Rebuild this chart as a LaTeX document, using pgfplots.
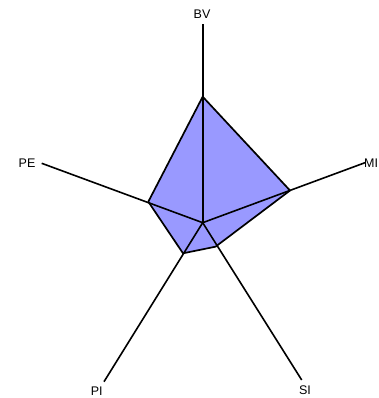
\documentclass[border=0pt]{standalone}
\usepackage{pgfplots}
\pgfplotsset{compat=1.18}
\usepackage{fontspec}
\setmainfont{Liberation Sans}
\definecolor{radarfill}{RGB}{153,153,255}

\begin{document}
\begin{tikzpicture}
  \path[use as bounding box, clip] (0,0) rectangle (378pt,398pt);
  \begin{axis}[
      at={(0,0)}, anchor=south west,
      scale only axis, width=378pt, height=398pt,
      xmin=-202.7, xmax=175.3, ymin=-175.3, ymax=222.7,
      axis lines=none, clip=false,
    ]
    % filled profile
    \addplot[fill=radarfill, draw=black, line width=1.7pt, line join=round]
      coordinates {(0,126) (87.3,32.2) (12.8,-24) (-19.7,-30.6) (-54.4,21) (0,126)} -- cycle;
    % spokes
    \addplot[black, line width=1.6pt] coordinates {(0,0) (0,198.7)};
    \addplot[black, line width=1.6pt] coordinates {(0,0) (162.3,60)};
    \addplot[black, line width=1.6pt] coordinates {(0,0) (99,-157.3)};
    \addplot[black, line width=1.6pt] coordinates {(0,0) (-98.7,-159)};
    \addplot[black, line width=1.6pt] coordinates {(0,0) (-161,59.4)};
    % labels
    \node[font=\fontsize{12.5}{14}\selectfont] at (axis cs:-0.7,208.7) {BV};
    \node[font=\fontsize{12.5}{14}\selectfont, anchor=west, inner sep=0pt] at (axis cs:161.3,59.7) {MI};
    \node[font=\fontsize{12.5}{14}\selectfont] at (axis cs:102.3,-167.3) {SI};
    \node[font=\fontsize{12.5}{14}\selectfont] at (axis cs:-106,-169) {PI};
    \node[font=\fontsize{12.5}{14}\selectfont] at (axis cs:-175.7,59.7) {PE};
  \end{axis}
\end{tikzpicture}
\end{document}
